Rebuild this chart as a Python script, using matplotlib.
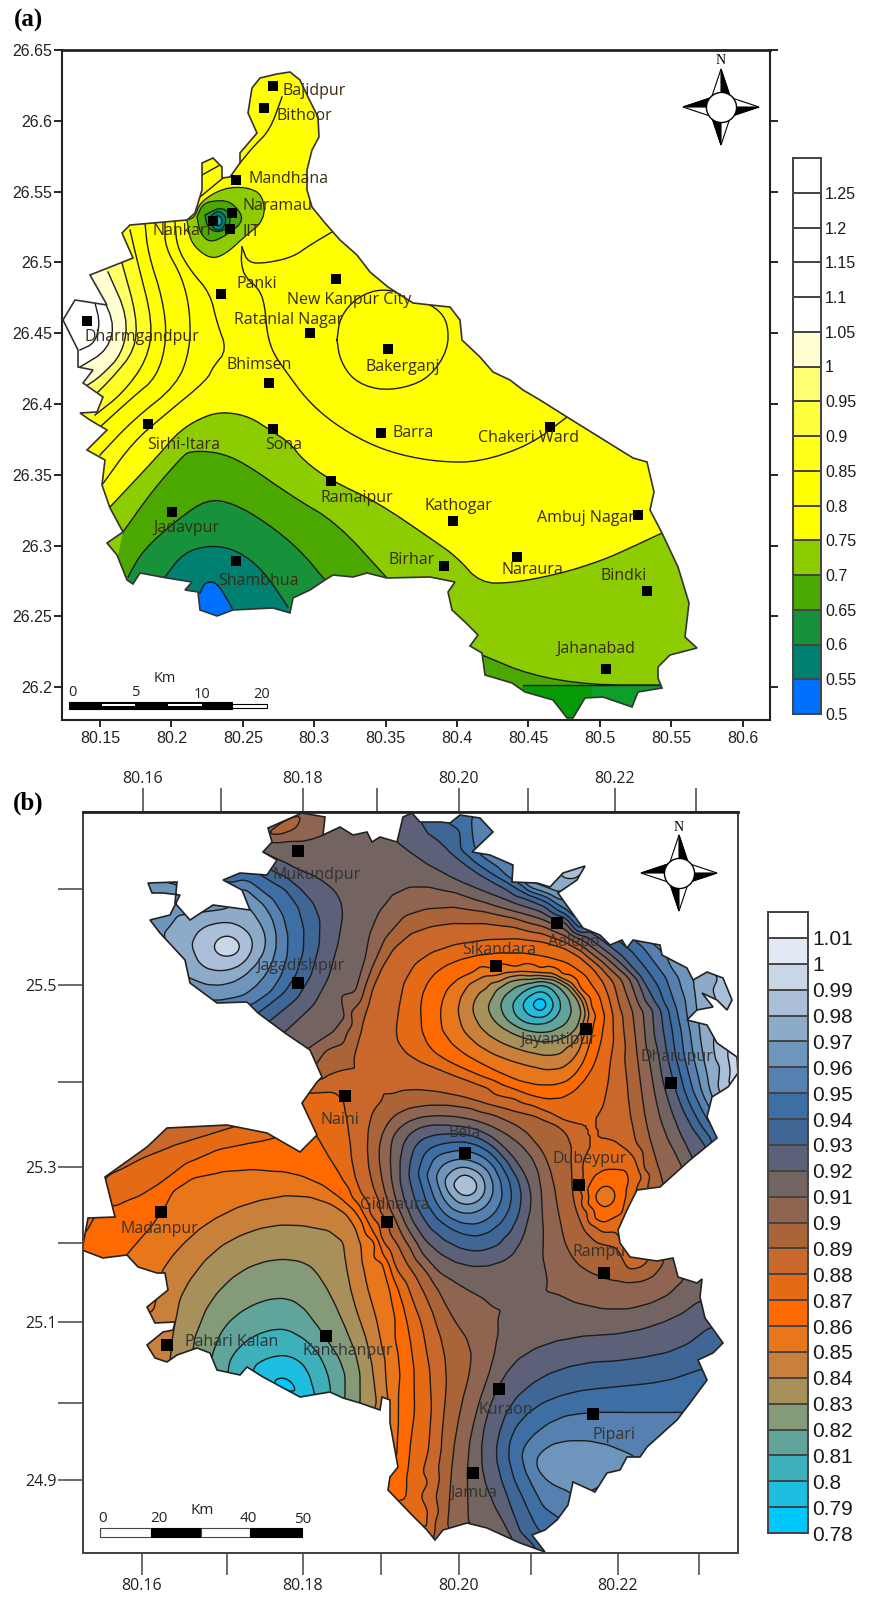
import numpy as np
import matplotlib
matplotlib.use("Agg")
import matplotlib.pyplot as plt
from matplotlib.patches import Polygon
from matplotlib.tri import Triangulation, LinearTriInterpolator

W, H = 871, 1600
LABEL_FONT = "Open Sans"
TICK_FONT = "Liberation Sans"

a_levels = [0.5, 0.55, 0.6, 0.65, 0.7, 0.75, 0.8, 0.85, 0.9, 0.95, 1.0, 1.05, 1.1, 1.15, 1.2, 1.25, 1.3]
a_colors = ["#0070ff", "#008070", "#17923a", "#4aa800", "#8ccc00", "#ffff00", "#ffff00", "#ffff1a",
            "#ffff40", "#ffff73", "#ffffd2", "#ffffff", "#ffffff", "#ffffff", "#ffffff", "#ffffff"]
a_bar_labels = ["0.5", "0.55", "0.6", "0.65", "0.7", "0.75", "0.8", "0.85", "0.9", "0.95", "1",
                "1.05", "1.1", "1.15", "1.2", "1.25"]
a_lon_ticks = [80.15, 80.2, 80.25, 80.3, 80.35, 80.4, 80.45, 80.5, 80.55, 80.6]
a_lon_labels = ["80.15", "80.2", "80.25", "80.3", "80.35", "80.4", "80.45", "80.5", "80.55", "80.6"]
a_lat_ticks = [26.2, 26.25, 26.3, 26.35, 26.4, 26.45, 26.5, 26.55, 26.6, 26.65]
a_lat_labels = ["26.2", "26.25", "26.3", "26.35", "26.4", "26.45", "26.5", "26.55", "26.6", "26.65"]

a_outline = [(252,88),(260,78),(277,74),(290,72),(300,80),(308,97),(318,117),(319,137),(312,150),(307,170),
             (307,190),(312,207),(325,223),(340,240),(357,255),(370,272),(388,287),(413,303),(440,306),(450,307),
             (460,320),(462,340),(480,357),(493,372),(510,380),(523,390),(540,400),(567,417),(633,458),(647,462),
             (654,492),(650,510),(662,533),(678,567),(689,603),(685,637),(697,648),(670,655),(658,667),(658,678),
             (662,688),(638,692),(632,707),(603,697),(585,698),(573,718),(567,718),(553,700),(525,692),(512,683),
             (485,675),(482,653),(470,646),(478,635),(465,622),(452,610),(448,592),(455,582),(430,577),(387,578),
             (367,573),(353,577),(333,575),(325,580),(310,590),(293,598),(290,613),(273,608),(233,610),(217,616),
             (200,610),(198,592),(185,590),(192,582),(167,578),(140,573),(133,584),(127,580),(117,555),(107,543),
             (123,532),(110,508),(102,485),(105,460),(87,450),(107,430),(90,420),(80,413),(97,412),(103,397),
             (83,383),(93,370),(78,367),(78,350),(63,320),(75,300),(107,305),(90,275),(133,258),(122,233),
             (130,225),(187,220),(195,213),(202,190),(202,163),(213,158),(222,167),(222,178),(230,177),(240,163),
             (240,153),(257,133),(248,113)]

# band fill: contour line, then the points that close it outside the map
a_l_075 = [(110,507),(157,457),(180,430),(207,415),(227,412),(250,417),(270,430),(290,443),(303,460),(330,480),
           (377,502),(430,538),(457,557),(480,583),(513,583),(563,573),(603,560),(630,548),(662,533)]
a_l_070 = [(123,532),(153,490),(182,457),(190,451),(217,452),(243,462),(293,497),(337,523),(387,578)]
a_l_065 = [(128,577),(143,550),(177,520),(207,499),(233,503),(267,523),(300,550),(325,580)]
a_l_060 = [(165,577),(183,553),(210,545),(237,550),(263,570),(288,607)]
a_l_055 = [(200,593),(205,582),(217,582),(232,608)]
a_l_se = [(482,655),(530,675),(590,685),(662,685)]
a_l_w4 = [(130,230),(137,260),(153,323),(147,360),(123,393),(95,415)]
a_l_w5 = [(122,263),(137,317),(135,350),(113,377),(93,397)]
a_l_w6 = [(108,272),(128,317),(123,353),(100,377),(83,388)]
a_l_w7 = [(90,277),(115,320),(108,350),(80,367)]
a_l_w8 = [(95,303),(100,323),(95,343),(80,350)]
a_bands = [
    (a_l_w4, [(60,440),(60,200)], "#ffff26"),
    (a_l_w5, [(60,420),(60,240)], "#ffff66"),
    (a_l_w6, [(60,400),(60,250)], "#ffffd2"),
    (a_l_w7, [(50,380),(50,260)], "#ffffff"),
    (a_l_w8, [(50,360),(50,290)], "#ffffff"),
    (a_l_075, [(720,533),(720,740),(40,740),(40,507)], "#8ccc00"),
    (a_l_070, [(400,640),(100,640)], "#4aa800"),
    (a_l_065, [(340,650),(120,650)], "#17923a"),
    (a_l_060, [(300,650),(160,650)], "#008070"),
    (a_l_055, [(240,640),(190,640)], "#0070ff"),
    (a_l_se, [(680,740),(470,740)], "#4aa800"),
    ([(523,685),(590,685)], [(610,740),(510,740)], "#069b06"),
    ([(590,685),(662,685)], [(680,740),(610,740)], "#0e9e2c"),
]
a_blobs = [
    ([(187,220),(190,240),(200,252),(213,259),(227,253),(243,238),(265,220),(263,195),(247,187),(223,188),(200,202),(195,217)], "#8ccc00"),
    ([(197,217),(203,203),(220,200),(233,203),(245,220),(227,235),(210,243),(200,233)], "#4aa800"),
    ([(205,215),(220,207),(230,213),(230,227),(217,233),(207,227)], "#17923a"),
    ([(210,217),(218,210),(227,217),(223,230),(213,230)], "#008070"),
    ([(213,217),(220,215),(223,223),(217,227)], "#20a0a8"),
]
a_lines = [
    [(332,232),(310,245),(293,257),(267,263),(248,263),(242,247)],
    [(242,247),(241,263),(245,277),(260,290),(265,307),(267,333),(273,353),(287,373),(307,400),(333,423),(367,443),
     (400,455),(440,462),(480,462),(530,445),(567,417)],
    [(337,340),(340,317),(357,297),(383,288),(413,297),(437,308),(448,323),(448,350),(430,377),(405,388),(377,390),
     (353,380),(340,360),(337,340)],
    [(282,97),(270,130),(253,147),(240,163)],
    [(202,175),(220,165)],
    [(200,197),(223,178)],
    [(175,222),(177,247),(190,270),(210,293),(217,323),(227,350),(213,367),(207,380),(167,413),(133,442),(102,485)],
    [(165,223),(165,247),(182,277),(190,310),(190,350),(177,385),(133,420),(100,455)],
    [(145,223),(148,253),(163,300),(167,340),(157,377),(133,397),(100,427)],
]
a_station_names = ["Bajidpur", "Bithoor", "Mandhana", "Naramau", "IIT", "Nankari", "Panki", "New Kanpur City",
                   "Ratanlal Nagar", "Bakerganj", "Dharmgandpur", "Bhimsen", "Sona", "Sirhi-Itara", "Barra",
                   "Chakeri Ward", "Ramaipur", "Kathogar", "Ambuj Nagar", "Jadavpur", "Shambhua", "Birhar",
                   "Naraura", "Bindki", "Jahanabad"]
a_station_x = [273,264,236,232,230,213,221,336,310,388,87,269,273,148,381,550,331,453,638,172,236,444,517,647,606]
a_station_y = [86,108,180,213,229,221,294,279,333,349,321,383,429,424,433,427,481,521,515,512,561,566,557,591,669]
a_label_x = [282,277,249,243,242,153,236,287,234,365,85,227,265,147,393,478,320,424,537,153,218,388,502,601,556]
a_label_y = [91,116,179,206,232,231,284,300,320,367,337,365,445,445,433,438,498,506,518,528,581,560,570,576,649]

# ---------- panel (b) data, contour readings per level (sheet px, converted by geo_b) ----------
b_levels = [0.78, 0.79, 0.80, 0.81, 0.82, 0.83, 0.84, 0.85, 0.86, 0.87, 0.88, 0.89, 0.90, 0.91, 0.92, 0.93,
            0.94, 0.95, 0.96, 0.97, 0.98, 0.99, 1.0, 1.01, 1.02]
b_colors = ["#00c8ff", "#1ebee0", "#3eb0bc", "#60a49c", "#849a78", "#a8905a", "#c8803a", "#e8761a", "#ff6a00",
            "#e56a16", "#c9682a", "#ab6438", "#8f6450", "#736462", "#5c6078", "#3f6694", "#3d6ea4", "#5580b0",
            "#6e96bc", "#8daac8", "#abc0d8", "#c8d6e6", "#e2e8f4", "#ffffff"]
b_bar_labels = ["0.78", "0.79", "0.8", "0.81", "0.82", "0.83", "0.84", "0.85", "0.86", "0.87", "0.88", "0.89",
                "0.9", "0.91", "0.92", "0.93", "0.94", "0.95", "0.96", "0.97", "0.98", "0.99", "1", "1.01"]
b_lon_labels = ["80.16", "", "80.18", "", "80.20", "", "80.22", ""]
b_lat_labels = ["", "25.5", "", "25.3", "", "25.1", "", "24.9"]
b_top_tick_px = [143, 221, 303, 377, 459, 528, 615, 696]
b_bottom_tick_px = [142, 227, 303, 381, 459, 531, 618, 699]
b_left_tick_px = [889, 985, 1082, 1167, 1243, 1322, 1403, 1480]

b_outline = [(268,828),(293,817),(302,813),(325,817),(323,835),(340,827),(353,835),(367,832),(372,842),(380,837),
             (397,842),(403,817),(412,813),(420,822),(440,822),(450,823),(460,815),(480,818),(493,832),(472,852),
             (490,855),(513,865),(512,882),(537,883),(550,887),(563,873),(585,866),(577,880),(558,893),(583,928),
             (600,935),(610,945),(622,940),(627,948),(633,940),(660,945),(662,955),(687,968),(693,980),(707,972),
             (723,978),(732,1000),(727,1010),(717,1000),(702,993),(713,1007),(697,1010),(687,1020),(707,1025),
             (717,1043),(737,1057),(738,1073),(728,1087),(712,1097),(707,1117),(717,1138),(690,1160),(660,1187),
             (637,1190),(627,1210),(618,1230),(620,1243),(630,1257),(657,1261),(673,1258),(678,1277),(697,1283),
             (702,1279),(700,1297),(705,1318),(723,1343),(713,1353),(698,1360),(707,1380),(690,1403),(677,1420),
             (647,1447),(640,1457),(627,1457),(620,1470),(607,1473),(595,1492),(573,1482),(568,1505),(557,1520),
             (545,1530),(532,1535),(545,1552),(520,1543),(487,1528),(467,1523),(443,1530),(435,1540),(427,1530),
             (412,1515),(388,1490),(390,1477),(398,1467),(390,1423),(390,1400),(382,1397),(380,1410),(360,1403),
             (343,1398),(330,1392),(300,1397),(287,1390),(263,1377),(247,1367),(240,1375),(217,1370),(210,1353),
             (197,1348),(177,1355),(167,1362),(155,1358),(147,1345),(163,1332),(173,1330),(175,1322),(155,1323),
             (147,1307),(168,1290),(165,1273),(157,1273),(138,1267),(127,1255),(103,1258),(82,1250),(88,1218),
             (115,1217),(110,1197),(105,1177),(147,1147),(167,1128),(227,1125),(267,1133),(300,1152),(317,1135),
             (302,1103),(317,1082),(322,1077),(310,1050),(285,1033),(258,1013),(247,1002),(217,1003),(190,983),
             (185,960),(160,933),(150,920),(170,915),(180,895),(163,893),(152,893),(148,883),(177,882),(175,903),
             (190,920),(213,905),(250,910),(242,890),(223,880),(240,873),(267,875),(277,860),(263,852),(272,842)]

b_contours = [
    # west lobe
    (0.99, [(213,945),(220,936),(232,935),(243,945),(238,955),(225,958),(215,953),(213,945)]),
    (0.98, [(191,945),(200,928),(225,921),(248,930),(254,947),(243,965),(222,972),(200,967),(191,945)]),
    (0.97, [(187,977),(213,987),(240,980),(263,957),(267,937),(257,917),(247,905)]),
    (0.97, [(163,935),(180,915)]),
    (0.96, [(200,1000),(230,1000),(250,993),(270,970),(278,940),(270,910),(245,888)]),
    (0.95, [(252,1005),(277,988),(290,947),(280,905),(250,882)]),
    (0.94, [(259,1012),(293,985),(307,940),(295,895),(258,873)]),
    (0.93, [(268,1022),(307,990),(323,930),(310,895),(265,866)]),
    (0.92, [(283,1033),(323,995),(343,923),(340,897),(320,880),(273,857),(262,852)]),
    # long lines round the north and east of the central valley
    (0.91, [(308,1050),(343,1027),(362,980),(373,920),(400,887),(440,887),(497,907),(557,923),(597,950),(640,987),
            (652,1080),(663,1130),(683,1167)]),
    (0.92, [(398,843),(440,873),(497,897),(557,917),(597,943),(650,987),(662,1080),(677,1127),(693,1160)]),
    (0.93, [(420,822),(440,843),(473,870),(513,893),(557,912),(597,937),(630,963),(660,1010),(672,1080),(687,1120),(707,1147)]),
    (0.95, [(470,818),(473,840),(472,852),(513,880),(557,902),(583,928)]),
    (0.95, [(643,947),(673,987),(688,1080),(707,1120),(717,1133)]),
    (0.97, [(530,883),(557,893)]),
    (0.97, [(693,980),(697,1020),(707,1080),(712,1097)]),
    (0.99, [(727,1057),(732,1073),(727,1087)]),
    (0.90, [(315,1067),(360,997),(393,920),(440,905),(497,913),(557,930),(597,957),(630,987),(640,1080),(647,1130),(663,1185)]),
    (0.89, [(322,1080),(350,1067),(363,1020),(373,980),(400,937),(440,923),(497,923),(557,937),(597,963),(618,987),
            (627,1080),(633,1130),(647,1185)]),
    (0.88, [(397,1040),(397,1020),(407,970),(440,947),(507,937),(557,943),(587,960),(607,987),(615,1030),(610,1065),
            (607,1090),(603,1110),(610,1137),(633,1153),(643,1177)]),
    (0.88, [(397,1040),(410,1057),(450,1073),(500,1092),(560,1118),(580,1135),(583,1170),(586,1205),(597,1232),(616,1232)]),
    # central valley rings
    (0.87, [(422,1030),(430,1050),(450,1063),(490,1080),(543,1100),(567,1097),(590,1073),(600,1047),(607,1007),(580,967),
            (530,953),(487,953),(450,962),(430,977),(420,1000),(422,1030)]),
    (0.86, [(442,1030),(457,1050),(493,1070),(527,1085),(563,1085),(580,1070),(590,1043),(595,1013),(573,980),(530,967),
            (480,970),(450,983),(440,1007),(442,1030)]),
    (0.85, [(462,1030),(483,1050),(517,1063),(557,1072),(577,1057),(583,1037),(590,1007),(563,975),(517,972),(473,977),
            (457,1003),(462,1030)]),
    (0.83, [(487,1007),(500,983),(530,977),(563,980),(585,1007),(577,1033),(550,1043),(520,1037),(495,1023),(487,1007)]),
    (0.81, [(512,1003),(527,988),(547,983),(563,1003),(553,1022),(530,1025),(515,1017),(512,1003)]),
    (0.79, [(532,1003),(540,997),(548,1003),(543,1012),(535,1010),(532,1003)]),
    # Bela
    (0.98, [(452,1185),(463,1173),(477,1180),(477,1193),(463,1197),(452,1185)]),
    (0.96, [(435,1177),(443,1163),(463,1158),(487,1167),(495,1188),(487,1207),(467,1215),(447,1207),(435,1177)]),
    (0.94, [(418,1173),(425,1150),(447,1142),(473,1142),(497,1157),(513,1187),(508,1217),(483,1237),(457,1233),(430,1213),(418,1173)]),
    (0.92, [(400,1160),(405,1137),(423,1125),(450,1125),(483,1130),(510,1153),(528,1180),(532,1203),(523,1237),(510,1258),
            (480,1268),(447,1260),(417,1233),(400,1190),(400,1160)]),
    (0.91, [(683,1280),(663,1300),(617,1312),(563,1300),(543,1277),(542,1197),(537,1163),(517,1140),(483,1122),(447,1115),
            (413,1118),(393,1133),(390,1153),(392,1187),(403,1220),(430,1267),(463,1287),(490,1302),(500,1323),(493,1363),
            (477,1410),(467,1457),(468,1523)]),
    (0.90, [(663,1263),(650,1280),(617,1283),(583,1270),(567,1250),(560,1223),(553,1180),(543,1153),(523,1128),(483,1110),
            (440,1104),(400,1110),(383,1130),(378,1153),(383,1187),(393,1217),(417,1260),(433,1280),(453,1320),(472,1347),
            (470,1373),(460,1410),(452,1457),(447,1528)]),
    (0.89, [(618,1247),(590,1240),(575,1205),(572,1170),(573,1137),(553,1120),(497,1107),(447,1093),(407,1089),(387,1097),
            (373,1110),(367,1137),(370,1177),(383,1210),(403,1257),(420,1283),(437,1323),(447,1370),(443,1423),(437,1483),(433,1537)]),
    # Dubeypur
    (0.87, [(627,1170),(597,1170),(583,1197),(597,1227),(622,1213)]),
    (0.86, [(593,1195),(605,1183),(618,1193),(612,1207),(598,1208),(593,1195)]),
    # south west valley
    (0.88, [(307,1092),(343,1090),(349,1127),(353,1173),(363,1200),(387,1253),(420,1313),(433,1390),(428,1467),(430,1530)]),
    (0.87, [(317,1135),(337,1170),(353,1193),(377,1240),(405,1307),(417,1390),(407,1467),(407,1500)]),
    (0.87, [(115,1205),(150,1192),(200,1153),(273,1138)]),
    (0.88, [(105,1177),(150,1153),(233,1127)]),
    (0.86, [(128,1253),(157,1220),(177,1180),(237,1168),(293,1173),(333,1190),(372,1232),(387,1270),(398,1330),(398,1423),(397,1457)]),
    (0.85, [(163,1270),(177,1250),(207,1223),(250,1202),(300,1193),(343,1207),(360,1233),(363,1273),(380,1333),(388,1397)]),
    (0.84, [(175,1323),(182,1290),(213,1250),(250,1230),(290,1223),(343,1233),(347,1267),(353,1300),(370,1350),(377,1403)]),
    (0.83, [(195,1337),(210,1300),(240,1270),(275,1258),(307,1262),(323,1280),(340,1313),(360,1363),(360,1403)]),
    (0.82, [(213,1353),(223,1327),(247,1307),(277,1297),(300,1303),(320,1330),(345,1367),(345,1398)]),
    (0.81, [(227,1373),(230,1357),(250,1337),(277,1328),(297,1333),(317,1350),(328,1373),(331,1392)]),
    (0.80, [(255,1365),(270,1357),(290,1355),(307,1367),(315,1395)]),
    (0.79, [(273,1380),(283,1377),(293,1383),(298,1395)]),
    # south east
    (0.92, [(700,1300),(677,1317),(630,1333),(570,1337),(523,1353),(500,1380),(485,1417),(480,1457),(487,1490),(513,1537)]),
    (0.93, [(710,1327),(680,1350),(630,1360),(580,1363),(540,1377),(510,1403),(497,1440),(497,1467),(520,1533)]),
    (0.94, [(698,1370),(663,1382),(613,1387),(570,1392),(533,1407),(510,1433),(508,1467),(533,1520)]),
    (0.95, [(687,1412),(637,1412),(590,1412),(557,1417),(527,1440),(520,1460),(543,1507)]),
    (0.96, [(640,1457),(597,1440),(557,1440),(537,1453),(533,1467),(547,1483),(568,1492)]),
    # north tip
    (0.91, [(268,842),(310,841),(340,827)]),
]
# single readings: centres of closed rings, and spots at the edge of the map
b_spot_x = [227,540,463,605,285,590,560,600,285,300,300,350,170,95,115,165,155,160,140,95,80,393,400,
            575,712,725,737,720,480,460,535,715,410,425,150,145,240,550,735,640,575,240,170,745,730,590,
            700,630,620,310,410,490,325,310,300]
b_spot_y = [945,1003,1185,1195,1388,1465,1465,1475,823,830,860,860,1135,1225,1240,1300,1310,1345,1345,1255,
            1255,1480,1520,873,990,990,1073,1065,830,830,1540,1340,825,835,885,925,875,1555,1345,1465,1500,
            1380,1365,1073,980,860,1290,1250,1170,808,810,815,1075,1110,1150]
b_spot_v = [0.995,0.78,0.995,0.855,0.785,0.965,0.965,0.965,0.885,0.905,0.915,0.915,0.885,0.865,0.865,0.845,
            0.85,0.845,0.845,0.865,0.865,0.865,0.875,0.985,0.98,0.985,1.0,0.98,0.955,0.94,0.935,0.935,0.925,
            0.93,0.965,0.965,0.945,0.935,0.935,0.96,0.96,0.805,0.84,1.0,0.985,0.985,0.915,0.875,0.87,0.905,
            0.925,0.955,0.89,0.875,0.865]
b_station_names = ["Mukundpur", "Jagadishpur", "Naini", "Sikandara", "Aalepo", "Jayantipur", "Dharupur", "Bela",
                   "Dubeypur", "Gidhaura", "Madanpur", "Rampu", "Pahari Kalan", "Kanchanpur", "Kuraon", "Pipari", "Jamua"]
b_station_x = [298,298,345,496,557,586,671,465,579,387,161,604,167,326,499,593,473]
b_station_y = [851,983,1096,966,923,1029,1083,1153,1185,1222,1212,1273,1345,1336,1389,1414,1473]
b_label_x = [273,256,320,462,548,520,640,448,553,360,120,573,185,303,478,592,450]
b_label_y = [875,966,1120,950,942,1040,1057,1133,1159,1205,1229,1252,1342,1351,1410,1435,1493]


def geo_a(x, y):
    return 80.15 + (np.asarray(x, float) - 100) * 0.05 / 71.4, 26.65 - (np.asarray(y, float) - 50) * 0.05 / 70.8


def geo_b(x, y):
    return 80.16 + (np.asarray(x, float) - 143) * 0.02 / 158.7, 25.5 - (np.asarray(y, float) - 985) * 0.2 / 165


def smooth(pts, rounds=2):
    # corner cutting, keeps the end points
    p = np.asarray(pts, float)
    for _ in range(rounds):
        q = np.empty((2 * (len(p) - 1), 2))
        q[0::2] = 0.75 * p[:-1] + 0.25 * p[1:]
        q[1::2] = 0.25 * p[:-1] + 0.75 * p[1:]
        p = np.vstack([p[0], q, p[-1]])
    return p


def new_axes(fig, left, top, right, bottom):
    return fig.add_axes([left / W, 1 - bottom / H, (right - left) / W, (bottom - top) / H])


def add_compass(ax, geo, cx, cy):
    # four arms, each half black, turning clockwise from north
    arm = 38
    base = 9
    foot = 11
    dirs = [(0, -1), (1, 0), (0, 1), (-1, 0)]
    for dx, dy in dirs:
        nx, ny = -dy, dx
        tip = (cx + dx * arm, cy + dy * arm)
        a = (cx + dx * foot + nx * base, cy + dy * foot + ny * base)
        b = (cx + dx * foot - nx * base, cy + dy * foot - ny * base)
        mid = (cx + dx * foot, cy + dy * foot)
        for tri, col in (([tip, a, b], "white"), ([tip, a, mid], "black")):
            xs, ys = geo([t[0] for t in tri], [t[1] for t in tri])
            ax.fill(xs, ys, facecolor=col, edgecolor="black", lw=0.8, zorder=8)
    xc, yc = geo(cx, cy)
    ax.scatter([xc], [yc], s=470, facecolor="white", edgecolor="black", lw=1, zorder=9)
    xn, yn = geo(cx, cy - 46)
    ax.text(xn, yn, "N", family="Liberation Serif", fontsize=10, ha="center", va="center", zorder=9)


def add_bar(ax, geo, x0, x1, y0, y1, face, edge="black", lw=0.8):
    xs, ys = geo([x0, x1, x1, x0], [y0, y0, y1, y1])
    ax.fill(xs, ys, facecolor=face, edgecolor=edge, lw=lw, zorder=8)


def bar_axes(fig, box, levels, colors, labels, fontsize, edge):
    ax = new_axes(fig, *box)
    ax.bar(0, np.diff(levels), bottom=levels[:-1], width=1, color=colors, edgecolor=edge, lw=1.4)
    ax.set_xlim(-0.5, 0.5)
    ax.set_ylim(levels[0], levels[-1])
    ax.set_xticks([])
    ax.yaxis.tick_right()
    ax.set_yticks(levels[:len(labels)])
    ax.set_yticklabels(labels, family=TICK_FONT, fontsize=fontsize, color="#1a1a1a")
    ax.tick_params(axis="y", length=0, pad=3)
    for s in ax.spines.values():
        s.set_color(edge)
        s.set_linewidth(1.4)
    return ax


def blur(grid, passes=4):
    g = grid.copy()
    for _ in range(passes):
        g[1:-1, :] = 0.25 * g[:-2, :] + 0.5 * g[1:-1, :] + 0.25 * g[2:, :]
        g[:, 1:-1] = 0.25 * g[:, :-2] + 0.5 * g[:, 1:-1] + 0.25 * g[:, 2:]
    return g


def fill_gaps(grid):
    # cells outside the readings take the mean of their known neighbours
    g = grid.copy()
    while np.isnan(g).any():
        stack = np.stack([np.roll(g, 1, 0), np.roll(g, -1, 0), np.roll(g, 1, 1), np.roll(g, -1, 1)])
        known = ~np.isnan(stack)
        count = known.sum(axis=0)
        mean = np.where(count > 0, np.nansum(stack, axis=0) / np.maximum(count, 1), np.nan)
        g = np.where(np.isnan(g), mean, g)
    return g


fig = plt.figure(figsize=(W / 100, H / 100), dpi=100)
fig.patch.set_facecolor("white")
fig.text(28 / W, 1 - 20 / H, "(a)", family="Liberation Serif", weight="bold", fontsize=18, ha="center", va="center")
fig.text(28 / W, 1 - 803 / H, "(b)", family="Liberation Serif", weight="bold", fontsize=18, ha="center", va="center")

# ---------- panel (a) ----------
ax = new_axes(fig, 62, 50, 770, 720)
xl, yl = geo_a([62, 770], [720, 50])
ax.set_xlim(xl)
ax.set_ylim(yl)
ax.set_xticks(a_lon_ticks)
ax.set_xticklabels(a_lon_labels, family=TICK_FONT, fontsize=11.5, color="#222222")
ax.set_yticks(a_lat_ticks)
ax.set_yticklabels(a_lat_labels, family=TICK_FONT, fontsize=11.5, color="#222222")
ax.tick_params(axis="x", length=5, width=1.2, pad=3)
ax.tick_params(axis="y", length=6, width=1.2, pad=1, right=True)
for s in ax.spines.values():
    s.set_color("#222222")
    s.set_linewidth(1.5)
ax.spines["top"].set_linewidth(2)

ox, oy = geo_a([p[0] for p in a_outline], [p[1] for p in a_outline])
a_clip = Polygon(np.column_stack([ox, oy]), closed=True, facecolor="#ffff00", edgecolor="none", zorder=1)
ax.add_patch(a_clip)
for line, closure, col in a_bands:
    p = np.vstack([smooth(line), closure])
    xs, ys = geo_a(p[:, 0], p[:, 1])
    art = ax.fill(xs, ys, facecolor=col, edgecolor="none", zorder=2)[0]
    art.set_clip_path(a_clip)
    xs, ys = geo_a(*smooth(line).T)
    ax.plot(xs, ys, color="#1c1c1c", lw=1, zorder=3)[0].set_clip_path(a_clip)
for poly, col in a_blobs:
    p = smooth(poly + poly[:1])
    xs, ys = geo_a(p[:, 0], p[:, 1])
    art = ax.fill(xs, ys, facecolor=col, edgecolor="#1c1c1c", lw=0.9, zorder=3)[0]
    art.set_clip_path(a_clip)
for line in a_lines:
    xs, ys = geo_a(*smooth(line).T)
    ax.plot(xs, ys, color="#1c1c1c", lw=1, zorder=3)[0].set_clip_path(a_clip)
ax.fill(ox, oy, facecolor="none", edgecolor="#333333", lw=1.2, zorder=4)

sx, sy = geo_a(a_station_x, a_station_y)
ax.scatter(sx, sy, marker="s", s=60, color="black", lw=0, zorder=6)
lx, ly = geo_a(a_label_x, a_label_y)
for name, x, y in zip(a_station_names, lx, ly):
    ax.text(x, y, name, family=LABEL_FONT, fontsize=11.5, color="#3a2c14", ha="left", va="center", zorder=7)

add_compass(ax, geo_a, 721, 107)
add_bar(ax, geo_a, 69, 232, 702, 709, "black")
add_bar(ax, geo_a, 232, 267, 704, 708, "white")
add_bar(ax, geo_a, 102, 135, 704, 706, "white", edge="none")
add_bar(ax, geo_a, 168, 202, 704, 706, "white", edge="none")
for txt, px, py in (("0", 72, 693), ("5", 136, 693), ("10", 202, 694), ("20", 262, 694), ("Km", 165, 678)):
    tx, ty = geo_a(px, py)
    ax.text(tx, ty, txt, family=LABEL_FONT, fontsize=10.5, color="#222222", ha="center", va="center", zorder=9)

bar_axes(fig, (793, 158, 821, 714), a_levels, a_colors, a_bar_labels, 11.5, "#444444")

# ---------- panel (b) ----------
ax = new_axes(fig, 83, 812, 738, 1553)
xl, yl = geo_b([83, 738], [1553, 812])
ax.set_xlim(xl)
ax.set_ylim(yl)
ax.set_xticks(geo_b(b_bottom_tick_px, 0)[0])
ax.set_xticklabels(b_lon_labels, family=LABEL_FONT, fontsize=11.5, color="#222222")
ax.set_yticks(geo_b(0, b_left_tick_px)[1])
ax.set_yticklabels(b_lat_labels, family=LABEL_FONT, fontsize=11.5, color="#222222")
ax.tick_params(axis="x", length=16, width=1.1, color="#444444", pad=2)
ax.tick_params(axis="y", length=18, width=1.1, color="#444444", pad=1)
top = ax.twiny()
top.set_xlim(xl)
top.set_xticks(geo_b(b_top_tick_px, 0)[0])
top.set_xticklabels(b_lon_labels, family=LABEL_FONT, fontsize=11.5, color="#222222")
top.tick_params(axis="x", length=17, width=1.1, color="#444444", pad=1)
for a in (ax, top):
    for s in a.spines.values():
        s.set_color("#444444")
        s.set_linewidth(1.4)
top.spines["top"].set_linewidth(2)
top.spines["top"].set_color("#222222")

px, py, pv = list(b_spot_x), list(b_spot_y), list(b_spot_v)
for level, line in b_contours:
    p = smooth(line, 1)
    px.extend(p[:, 0])
    py.extend(p[:, 1])
    pv.extend([level] * len(p))
pts = np.column_stack([px, py])
pts, keep = np.unique(np.round(pts, 1), axis=0, return_index=True)
pv = np.asarray(pv)[keep]

# triangulate on the sheet where both axes have the same scale, then soften on a fine grid
tri = Triangulation(pts[:, 0], pts[:, 1])
gx, gy = np.meshgrid(np.arange(60, 760, 2.0), np.arange(800, 1570, 2.0))
field = np.ma.filled(LinearTriInterpolator(tri, pv)(gx, gy), np.nan)
field = blur(fill_gaps(field))
lon, lat = geo_b(gx, gy)

ox, oy = geo_b([p[0] for p in b_outline], [p[1] for p in b_outline])
b_clip = Polygon(np.column_stack([ox, oy]), closed=True, facecolor="#736462", edgecolor="none", zorder=1)
ax.add_patch(b_clip)
fills = ax.contourf(lon, lat, field, levels=b_levels, colors=[b_colors[0]] + b_colors + [b_colors[-1]],
                    extend="both", zorder=2)
fills.set_clip_path(b_clip)
lines = ax.contour(lon, lat, field, levels=b_levels[1:-1], colors="#1c1c1c", linewidths=1, zorder=3)
lines.set_clip_path(b_clip)
ax.fill(ox, oy, facecolor="none", edgecolor="#222222", lw=1.2, zorder=4)

sx, sy = geo_b(b_station_x, b_station_y)
ax.scatter(sx, sy, marker="s", s=84, color="black", lw=0, zorder=6)
lx, ly = geo_b(b_label_x, b_label_y)
for name, x, y in zip(b_station_names, lx, ly):
    ax.text(x, y, name, family=LABEL_FONT, fontsize=11.5, color="#333333", ha="left", va="center", zorder=7)

add_compass(ax, geo_b, 679, 873)
add_bar(ax, geo_b, 100, 151, 1528, 1537, "white", edge="#444444")
add_bar(ax, geo_b, 151, 201, 1528, 1537, "black")
add_bar(ax, geo_b, 201, 250, 1528, 1537, "white", edge="#444444")
add_bar(ax, geo_b, 250, 302, 1528, 1537, "black")
for txt, tx0, ty0 in (("0", 103, 1518), ("20", 159, 1518), ("Km", 202, 1510), ("40", 248, 1518), ("50", 303, 1519)):
    tx, ty = geo_b(tx0, ty0)
    ax.text(tx, ty, txt, family=LABEL_FONT, fontsize=11, color="#222222", ha="center", va="center", zorder=9)

bar_axes(fig, (768, 912, 808, 1533), b_levels, b_colors, b_bar_labels, 15, "#444444")

fig.savefig("out.png", dpi=100)
